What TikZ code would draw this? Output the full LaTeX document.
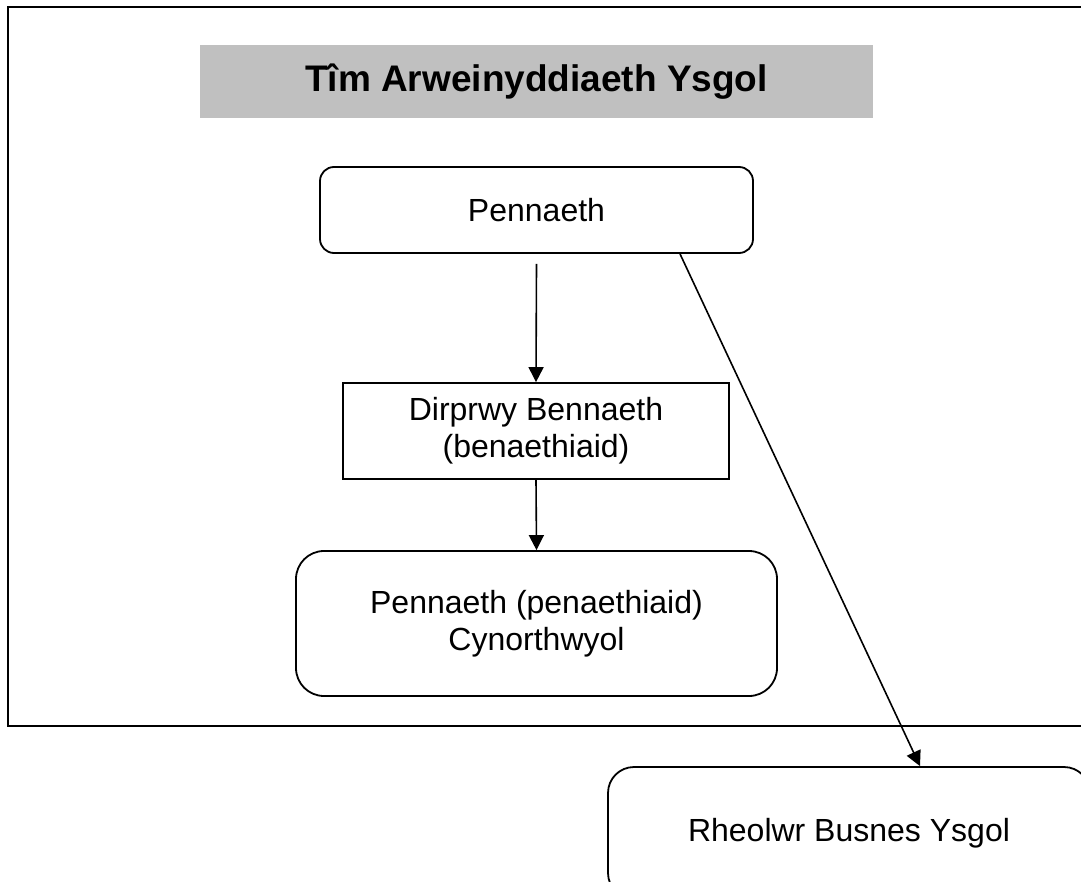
\documentclass[tikz,border=0pt]{standalone}
\usepackage{fontspec}
\setmainfont{Liberation Sans}
\usetikzlibrary{arrows.meta,calc}
\definecolor{titlegray}{RGB}{192,192,192}
\begin{document}
\begin{tikzpicture}[x=1pt,y=-1pt,
  body/.style={font=\fontsize{32}{37}\selectfont, align=center, inner sep=0pt},
  orgbox/.style={body, draw, line width=1.8pt},
  conn/.style={line width=1.6pt, -{Triangle[length=15pt,width=15pt]}},
  framestyle/.style={draw, line width=2.8pt}]
\useasboundingbox (0,0) rectangle (1081,882);
\clip (0,0) rectangle (1081,882);
\fill[white] (0,0) rectangle (1081,882);
\draw[framestyle] (8,7) rectangle (1100,726);
\node[fill=titlegray, minimum width=673pt, minimum height=73pt, inner sep=0pt,
      font=\fontsize{37}{44}\selectfont\bfseries] (title) at (536.5,81.5) {Tîm Arweinyddiaeth Ysgol};
\node[orgbox, rounded corners=14pt, minimum width=433pt, minimum height=86pt] (pen) at (536.5,210) {Pennaeth};
\node[orgbox, minimum width=386pt, minimum height=96pt] (dir) at (536,431) {Dirprwy Bennaeth\\(benaethiaid)};
\node[orgbox, rounded corners=28pt, minimum width=481pt, minimum height=145pt] (cyn) at (536.5,623.5) {Pennaeth (penaethiaid)\\Cynorthwyol};
\node[orgbox, rounded corners=26pt, minimum width=482pt, minimum height=132pt] (rheo) at (849,833) {Rheolwr Busnes Ysgol};
\draw[conn] ([yshift=-10pt]pen.south) -- (dir.north);
\draw[conn] (dir.south) -- (cyn.north);
\draw[conn] ([xshift=143.5pt]pen.south) -- ([xshift=71pt]rheo.north);
\end{tikzpicture}
\end{document}
